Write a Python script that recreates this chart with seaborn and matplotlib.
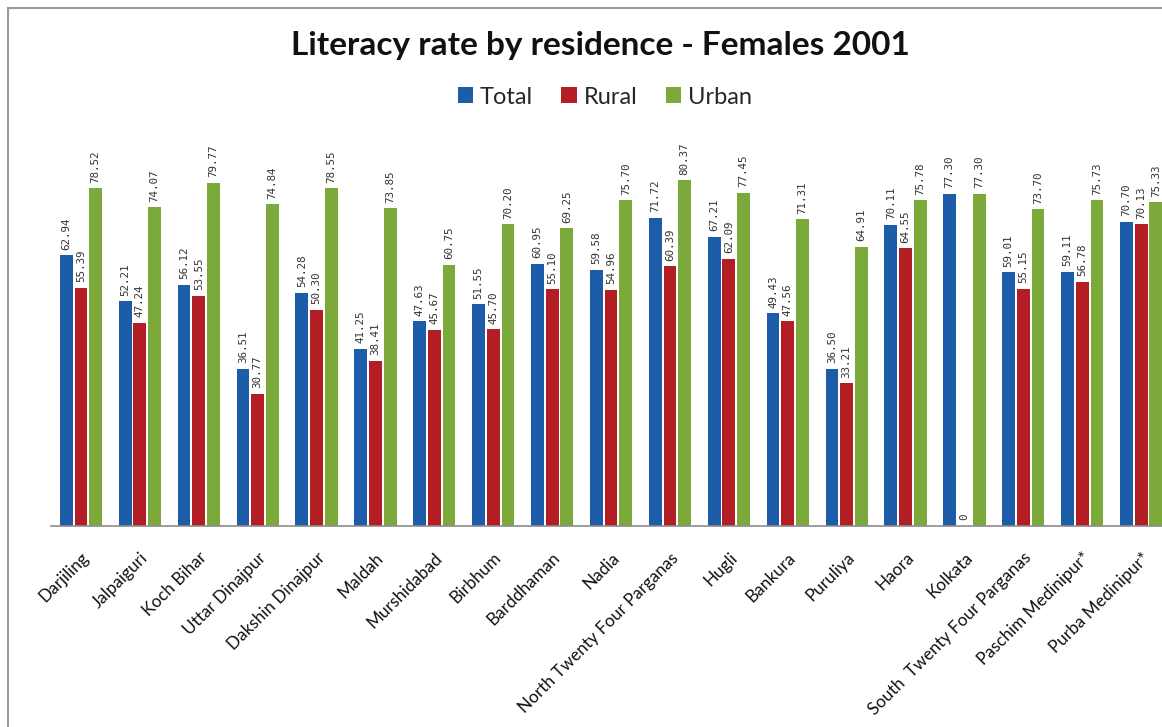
import matplotlib
matplotlib.use("Agg")
import matplotlib.pyplot as plt
import seaborn as sns
import pandas as pd
from matplotlib.patches import Rectangle

districts = ["Darjiling", "Jalpaiguri", "Koch Bihar", "Uttar Dinajpur", "Dakshin Dinajpur",
             "Maldah", "Murshidabad", "Birbhum", "Barddhaman", "Nadia",
             "North Twenty Four Parganas", "Hugli", "Bankura", "Puruliya", "Haora",
             "Kolkata", "South  Twenty Four Parganas", "Paschim Medinipur*", "Purba Medinipur*"]
total = [62.94, 52.21, 56.12, 36.51, 54.28, 41.25, 47.63, 51.55, 60.95, 59.58,
         71.72, 67.21, 49.43, 36.50, 70.11, 77.30, 59.01, 59.11, 70.70]
rural = [55.39, 47.24, 53.55, 30.77, 50.30, 38.41, 45.67, 45.70, 55.10, 54.96,
         60.39, 62.09, 47.56, 33.21, 64.55, 0, 55.15, 56.78, 70.13]
urban = [78.52, 74.07, 79.77, 74.84, 78.55, 73.85, 60.75, 70.20, 69.25, 75.70,
         80.37, 77.45, 71.31, 64.91, 75.78, 77.30, 73.70, 75.73, 75.33]
series = ["Total", "Rural", "Urban"]
colors = ["#1C5CA8", "#B31E24", "#7BAA3B"]

df = pd.DataFrame({
    "District": districts * 3,
    "Rate": total + rural + urban,
    "Residence": [s for s in series for _ in districts],
})

sns.set_theme(style="white")
plt.rcParams["font.family"] = ["Lato", "DejaVu Sans"]

W, H = 1162, 727
fig = plt.figure(figsize=(W / 100, H / 100), dpi=100)
fig.patch.set_facecolor("white")

ax_left, ax_bottom = 51.5, 526
step = 58.9
ax = fig.add_axes([ax_left / W, (H - ax_bottom) / H, 19 * step / W, 387 / H])

sns.barplot(data=df, x="District", y="Rate", hue="Residence", palette=colors,
            hue_order=series, order=districts, width=0.75, gap=0.13, ax=ax,
            saturation=1, edgecolor="none", linewidth=0)
ax.set_ylim(0, 90)
ax.set_xlim(-0.5, 18.5)

for cont, vals in zip(ax.containers, [total, rural, urban]):
    labels = ["0" if v == 0 else f"{v:.2f}" for v in vals]
    ax.bar_label(cont, labels=labels, rotation=90, padding=4, fontsize=7.8,
                 color="#333333", family="DejaVu Sans Mono")

for s in ["top", "right", "left"]:
    ax.spines[s].set_visible(False)
ax.spines["bottom"].set_color("#8c8c8c")
ax.spines["bottom"].set_linewidth(1.2)
ax.set_yticks([])
ax.set_xlabel("")
ax.set_ylabel("")
ax.tick_params(axis="x", length=0, pad=17)
plt.setp(ax.get_xticklabels(), rotation=45, ha="right", rotation_mode="anchor",
         fontsize=12.3, color="#111111")

handles, lbls = ax.get_legend_handles_labels()
if ax.get_legend() is not None:
    ax.get_legend().remove()
fig.legend(handles, lbls, loc="center", bbox_to_anchor=(605 / W, 1 - 97 / H), ncol=3,
           frameon=False, fontsize=17, handlelength=0.65, handleheight=0.65,
           handletextpad=0.3, columnspacing=1.2)

fig.text(600 / W, 1 - 45 / H, "Literacy rate by residence - Females 2001",
         ha="center", va="center", fontsize=24, fontweight="bold", color="#111111")

fig.add_artist(Rectangle((8 / W, -0.05), 1.1, 1 - 8 / H + 0.05, transform=fig.transFigure,
                         fill=False, edgecolor="#9a9a9a", linewidth=1.5))

fig.savefig("out.png", dpi=100)
